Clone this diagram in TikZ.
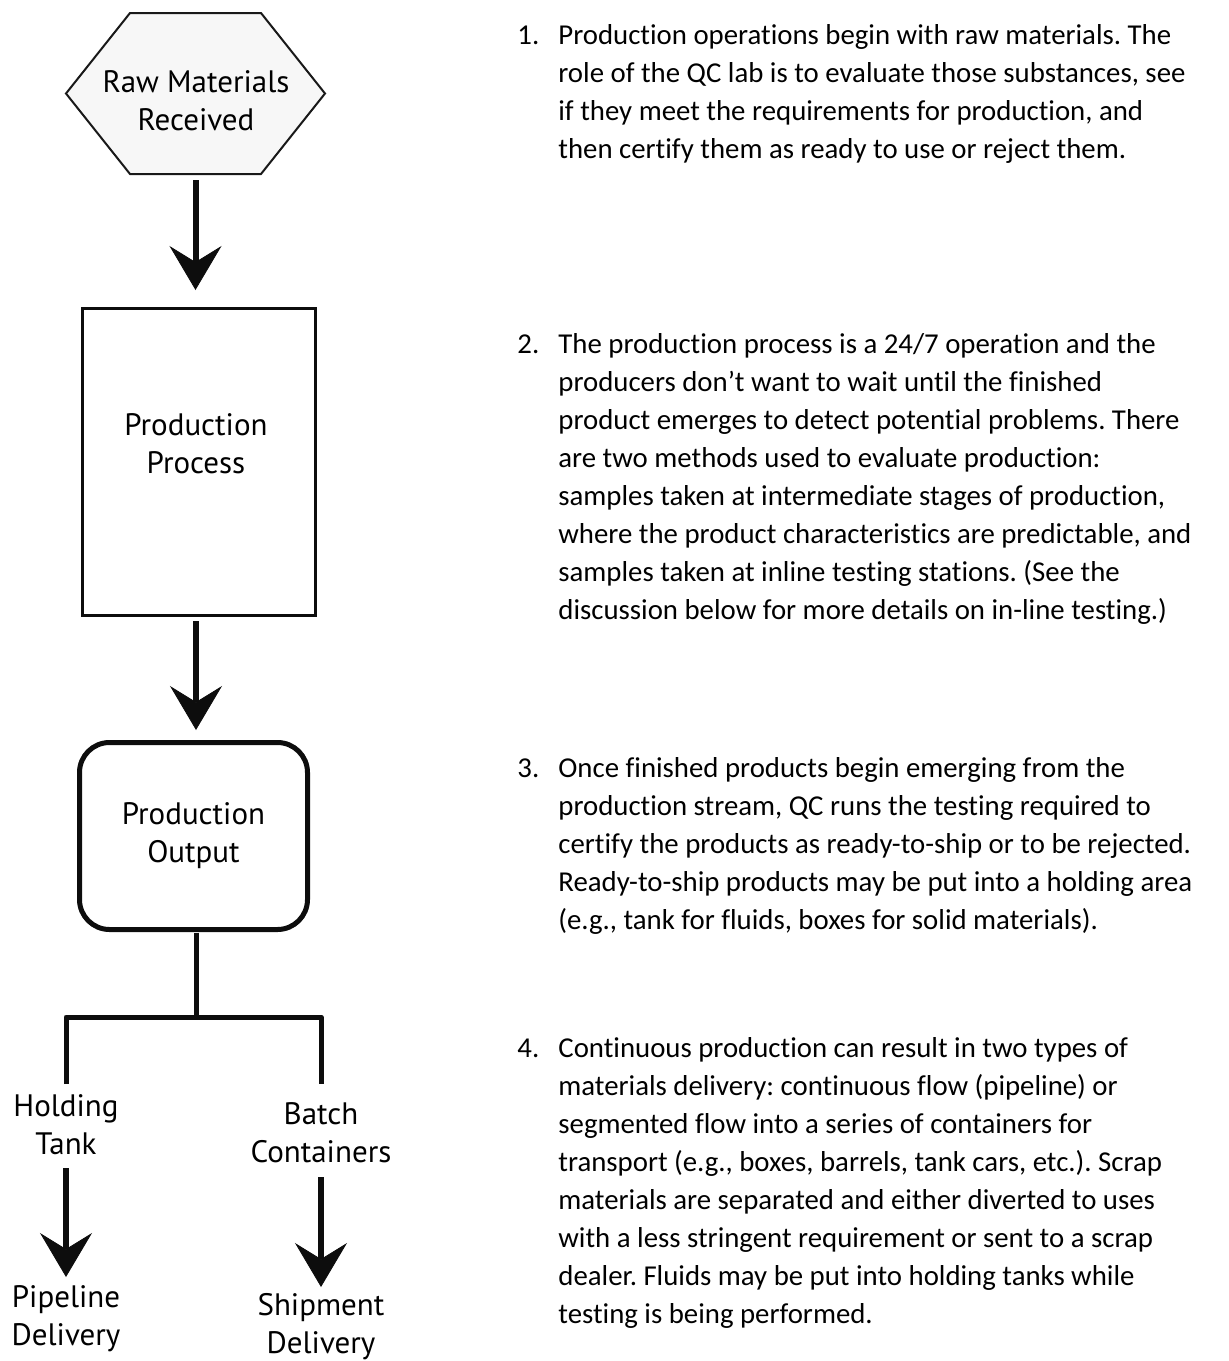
\documentclass[tikz,border=0pt]{standalone}
\usepackage{fontspec}
\setmainfont{Carlito}[Ligatures=NoCommon]
\newfontfamily\lblfont{PT Sans}
\usetikzlibrary{arrows.meta}
\frenchspacing
\begin{document}
\begin{tikzpicture}[x=0.5pt,y=-0.5pt,
  lbl/.style={font=\lblfont\fontsize{15.5pt}{19pt}\selectfont, align=center, inner sep=0pt},
  arr/.style={draw=black!95, line width=3pt, -{Stealth[length=22pt,width=26pt,inset=8pt,line width=0.4pt]}},
  tree/.style={draw=black!95, line width=2.5pt, line join=round},
  hexbox/.style={minimum width=129.5pt, minimum height=80.5pt, inner sep=0pt, outer sep=0pt},
  hexline/.style={draw=black!90, fill=black!3, line width=1pt, line join=miter},
  procbox/.style={draw=black!95, line width=1.5pt, minimum width=116.5pt, minimum height=153.5pt, inner sep=0pt, outer sep=0pt},
  outbox/.style={draw=black!95, line width=2.5pt, rounded corners=15pt, minimum width=114pt, minimum height=93.5pt, inner sep=0pt, outer sep=0pt, align=center, font=\lblfont\fontsize{15.5pt}{19pt}\selectfont},
  num/.style={anchor=base west, inner sep=0pt, font=\fontsize{14.4pt}{19pt}\selectfont},
  para/.style={anchor=base west, inner sep=0pt, font=\fontsize{14.4pt}{19pt}\selectfont}
]
\useasboundingbox (0,0) rectangle (1228,1361);

% hexagon
\node[hexbox] (raw) at (195.5,93.5) {};
\draw[hexline] (raw.west) -- ([xshift=32pt]raw.north west) -- ([xshift=-32pt]raw.north east) -- (raw.east) -- ([xshift=-32pt]raw.south east) -- ([xshift=32pt]raw.south west) -- cycle;
\node[lbl] (rawtxt) at (196,101) {Raw Materials\\Received};

% production process
\node[procbox] (proc) at (198.5,461.5) {};
\node[lbl] (proctxt) at (196,444) {Production\\Process};

% production output
\node[outbox] (out) at (193.5,836) {Production\\Output};

% labels
\node[lbl] (hold) at (66,1125) {Holding\\Tank};
\node[lbl] (batch) at (321,1133) {Batch\\Containers};
\node[lbl] (pipe) at (66,1319) {Pipeline\\Delivery};
\node[lbl] (ship) at (321,1327) {Shipment\\Delivery};

% connectors
\draw[arr] ([yshift=-3pt]raw.south) -- ([yshift=9pt]raw.south |- proc.north);
\draw[arr] ([xshift=-1.25pt,yshift=-3pt]proc.south) -- ([xshift=-1.25pt,yshift=6.25pt]proc.south |- out.north);
\coordinate (j) at (196,1017);
\draw[tree] ([yshift=-1.5pt]out.south -| j) -- (j);
\draw[tree] ([yshift=20.5pt]hold.center) -- (hold.center |- j) -- (batch.center |- j) -- ([yshift=24.5pt]batch.center);
\draw[arr] ([yshift=-21.5pt]hold.center) -- ([yshift=21pt]pipe.center);
\draw[arr] ([yshift=-22pt]batch.center) -- ([yshift=20pt]ship.center);

% text
\node[num] (n1) at (517,44) {1.};
\node[para] (p1) at (558,44) {\parbox[t]{400pt}{\raggedright
Production operations begin with raw materials. The\\
role of the QC lab is to evaluate those substances, see\\
if they meet the requirements for production, and\\
then certify them as ready to use or reject them.}};

\node[num] (n2) at (517,353) {2.};
\node[para] (p2) at (558,353) {\parbox[t]{400pt}{\raggedright
The production process is a 24/7 operation and the\\
producers don’t want to wait until the finished\\
product emerges to detect potential problems. There\\
are two methods used to evaluate production:\\
samples taken at intermediate stages of production,\\
where the product characteristics are predictable, and\\
samples taken at inline testing stations. (See the\\
discussion below for more details on in-line testing.)}};

\node[num] (n3) at (517,777) {3.};
\node[para] (p3) at (558,777) {\parbox[t]{400pt}{\raggedright
Once finished products begin emerging from the\\
production stream, QC runs the testing required to\\
certify the products as ready-to-ship or to be rejected.\\
Ready-to-ship products may be put into a holding area\\
(e.g., tank for fluids, boxes for solid materials).}};

\node[num] (n4) at (517,1057) {4.};
\node[para] (p4) at (558,1057) {\parbox[t]{400pt}{\raggedright
Continuous production can result in two types of\\
materials delivery: continuous flow (pipeline) or\\
segmented flow into a series of containers for\\
transport (e.g., boxes, barrels, tank cars, etc.). Scrap\\
materials are separated and either diverted to uses\\
with a less stringent requirement or sent to a scrap\\
dealer. Fluids may be put into holding tanks while\\
testing is being performed.}};
\end{tikzpicture}
\end{document}
